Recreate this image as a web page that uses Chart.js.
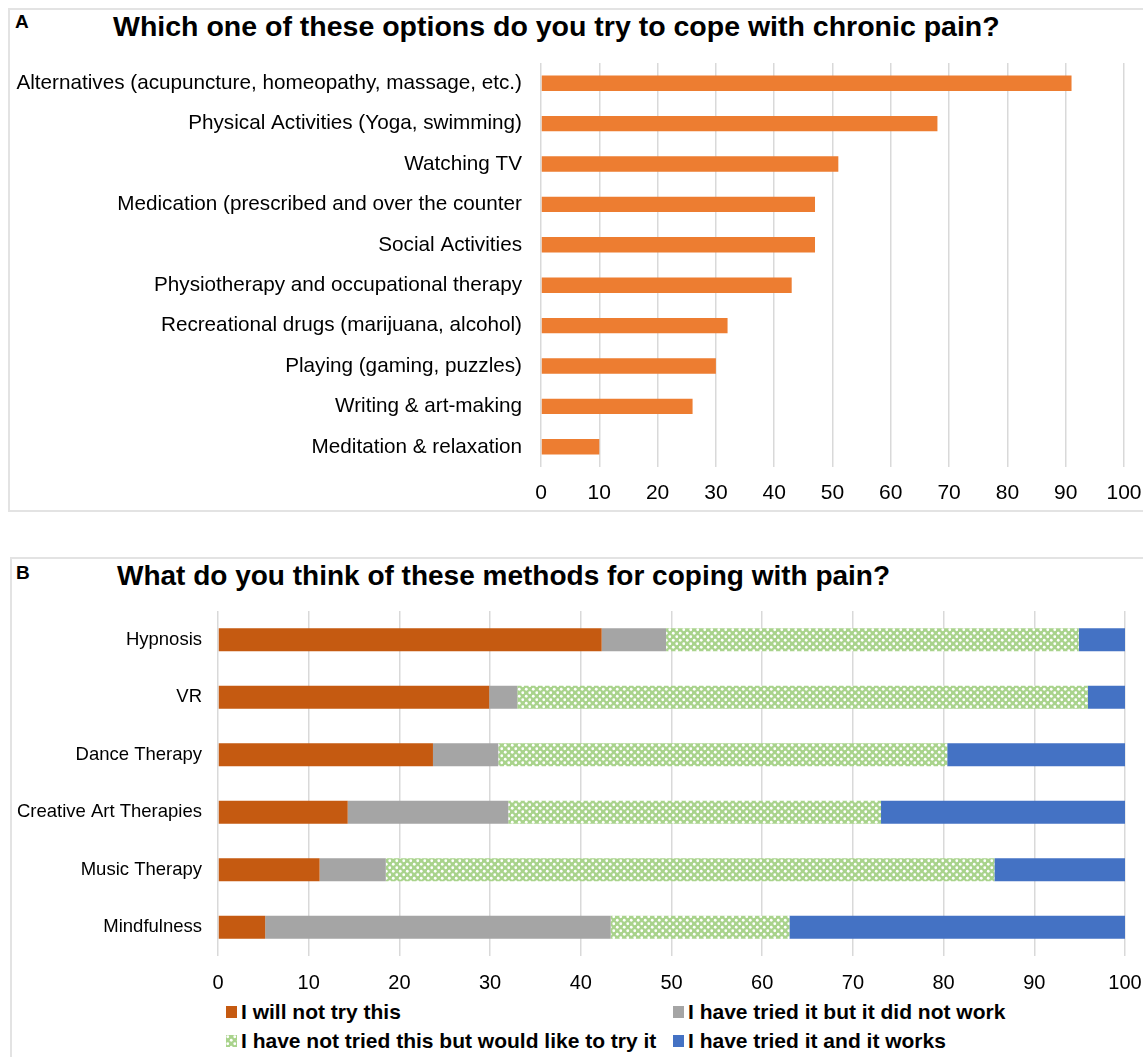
<!DOCTYPE html>
<html>
<head>
<meta charset="utf-8">
<script src="https://cdn.jsdelivr.net/npm/chart.js@4/dist/chart.umd.min.js"></script>
<style>
  html,body{margin:0;padding:0;background:#fff;width:1143px;height:1057px;overflow:hidden;}
  .panel{position:absolute;border:2px solid #e3e3e3;box-sizing:border-box;}
  .lbl{position:absolute;font-family:"Liberation Sans",Arial,sans-serif;font-weight:bold;color:#000;}
  .title{position:absolute;font-family:"Liberation Sans",Arial,sans-serif;font-weight:bold;color:#000;white-space:nowrap;}
  canvas{position:absolute;}
  .leg{position:absolute;font-family:"Liberation Sans",Arial,sans-serif;font-weight:bold;font-size:21px;color:#000;white-space:nowrap;display:flex;align-items:center;}
  .leg span.box{display:inline-block;width:11px;height:12px;margin-right:4px;}
</style>
</head>
<body>
<div class="panel" style="left:8px;top:8px;width:1150px;height:504px;"></div>
<div class="panel" style="left:10px;top:557px;width:1150px;height:520px;"></div>
<div class="lbl" style="left:15px;top:11px;font-size:19px;">A</div>
<div class="lbl" style="left:16px;top:562px;font-size:19px;">B</div>
<div class="title" style="left:113px;top:10px;font-size:28.5px;">Which one of these options do you try to cope with chronic pain?</div>
<div class="title" style="left:117px;top:560px;font-size:28px;">What do you think of these methods for coping with pain?</div>
<canvas id="cA" width="1133" height="460" style="left:10px;top:50px;width:1133px;height:460px;"></canvas>
<canvas id="cB" width="1133" height="400" style="left:10px;top:600px;width:1133px;height:400px;"></canvas>
<div id="legend"></div>
<script>
// ---------- Data ----------
const copingOptions = [
  "Alternatives (acupuncture, homeopathy, massage, etc.)",
  "Physical Activities (Yoga, swimming)",
  "Watching TV",
  "Medication (prescribed and over the counter",
  "Social Activities",
  "Physiotherapy and occupational therapy",
  "Recreational drugs (marijuana, alcohol)",
  "Playing (gaming, puzzles)",
  "Writing & art-making",
  "Meditation & relaxation"
];
const copingValues = [91, 68, 51, 47, 47, 43, 32, 30, 26, 10];

const methods = ["Hypnosis", "VR", "Dance Therapy", "Creative Art Therapies", "Music Therapy", "Mindfulness"];
const willNotTry       = [42.3, 29.9, 23.7, 14.3, 11.2, 5.2];
const triedNotWork     = [7.1, 3.1, 7.2, 17.7, 7.3, 38.1];
const notTriedWouldTry = [45.5, 62.9, 49.5, 41.1, 67.1, 19.7];
const triedWorks       = [5.1, 4.1, 19.6, 26.9, 14.4, 37.0];
const seriesNames = [
  "I will not try this",
  "I have tried it but it did not work",
  "I have not tried this but would like to try it",
  "I have tried it and it works"
];
const xTicks = [0,10,20,30,40,50,60,70,80,90,100];

// ---------- Pattern for the green series ----------
function makeTile(){
  const t = document.createElement('canvas');
  t.width = 7; t.height = 7;
  const g = t.getContext('2d');
  g.fillStyle = '#a9d38c';
  g.fillRect(0,0,7,7);
  g.fillStyle = '#ffffff';
  g.beginPath(); g.arc(1.75,1.75,1.4,0,Math.PI*2); g.fill();
  g.beginPath(); g.arc(5.25,5.25,1.4,0,Math.PI*2); g.fill();
  return t;
}
const tile = makeTile();
const greenPattern = document.getElementById('cB').getContext('2d').createPattern(tile,'repeat');

const COLORS = ['#c55a11', '#a5a5a5', greenPattern, '#4472c4'];

const gridColor = '#d9d9d9';
const fontReg = '"Liberation Sans", Arial, sans-serif';

function noPad(ax){ ax.paddingTop = 0; ax.paddingBottom = 0; ax.paddingLeft = 0; ax.paddingRight = 0; }

// ---------- Chart A ----------
new Chart(document.getElementById('cA'), {
  type: 'bar',
  data: {
    labels: copingOptions,
    datasets: [{
      data: copingValues,
      backgroundColor: '#ed7d31',
      borderWidth: 0,
      categoryPercentage: 1,
      barPercentage: 0.38
    }]
  },
  options: {
    indexAxis: 'y',
    responsive: false,
    animation: false,
    layout: { padding: { top: 13, right: 19, bottom: 0, left: 0 } },
    plugins: { legend: { display: false }, tooltip: { enabled: false } },
    scales: {
      x: {
        min: 0, max: 100,
        afterBuildTicks: (ax) => { ax.ticks = xTicks.map(v => ({ value: v })); },
        afterFit: (ax) => { ax.height = 43; noPad(ax); },
        grid: { color: gridColor, lineWidth: 1.5, drawTicks: false },
        border: { display: false },
        ticks: { color: '#000', font: { family: fontReg, size: 21 }, padding: 14 }
      },
      y: {
        afterFit: (ax) => { ax.width = 531; noPad(ax); },
        grid: { display: false, drawTicks: false },
        border: { display: false },
        ticks: { color: '#000', font: { family: fontReg, size: 20.7 }, padding: 19, autoSkip: false }
      }
    }
  }
});

// ---------- Chart B ----------
const seriesB = [willNotTry, triedNotWork, notTriedWouldTry, triedWorks];
new Chart(document.getElementById('cB'), {
  type: 'bar',
  data: {
    labels: methods,
    datasets: seriesB.map((d, i) => ({
      label: seriesNames[i],
      data: d,
      backgroundColor: COLORS[i],
      borderWidth: 0,
      categoryPercentage: 1,
      barPercentage: 0.4
    }))
  },
  options: {
    indexAxis: 'y',
    responsive: false,
    animation: false,
    layout: { padding: { top: 11, right: 18, bottom: 0, left: 0 } },
    plugins: { legend: { display: false }, tooltip: { enabled: false } },
    scales: {
      x: {
        stacked: true,
        min: 0, max: 100,
        afterBuildTicks: (ax) => { ax.ticks = xTicks.map(v => ({ value: v })); },
        afterFit: (ax) => { ax.height = 44; noPad(ax); },
        grid: { color: gridColor, lineWidth: 1.5, drawTicks: false },
        border: { display: false },
        ticks: { color: '#000', font: { family: fontReg, size: 20 }, padding: 15 }
      },
      y: {
        stacked: true,
        afterFit: (ax) => { ax.width = 208; noPad(ax); },
        grid: { display: false, drawTicks: false },
        border: { display: false },
        ticks: { color: '#000', font: { family: fontReg, size: 18.5 }, padding: 16, autoSkip: false }
      }
    }
  }
});

// ---------- Legend B (HTML, built from series names/colours) ----------
const legendPos = [[226, 1000], [673, 1000], [226, 1029], [673, 1029]];
const tileURL = tile.toDataURL();
const legendEl = document.getElementById('legend');
seriesNames.forEach((name, i) => {
  const div = document.createElement('div');
  div.className = 'leg';
  div.style.left = legendPos[i][0] + 'px';
  div.style.top = legendPos[i][1] + 'px';
  const box = document.createElement('span');
  box.className = 'box';
  if (typeof COLORS[i] === 'string') box.style.background = COLORS[i];
  else box.style.backgroundImage = 'url(' + tileURL + ')';
  div.appendChild(box);
  div.appendChild(document.createTextNode(name));
  legendEl.appendChild(div);
});
</script>
</body>
</html>
